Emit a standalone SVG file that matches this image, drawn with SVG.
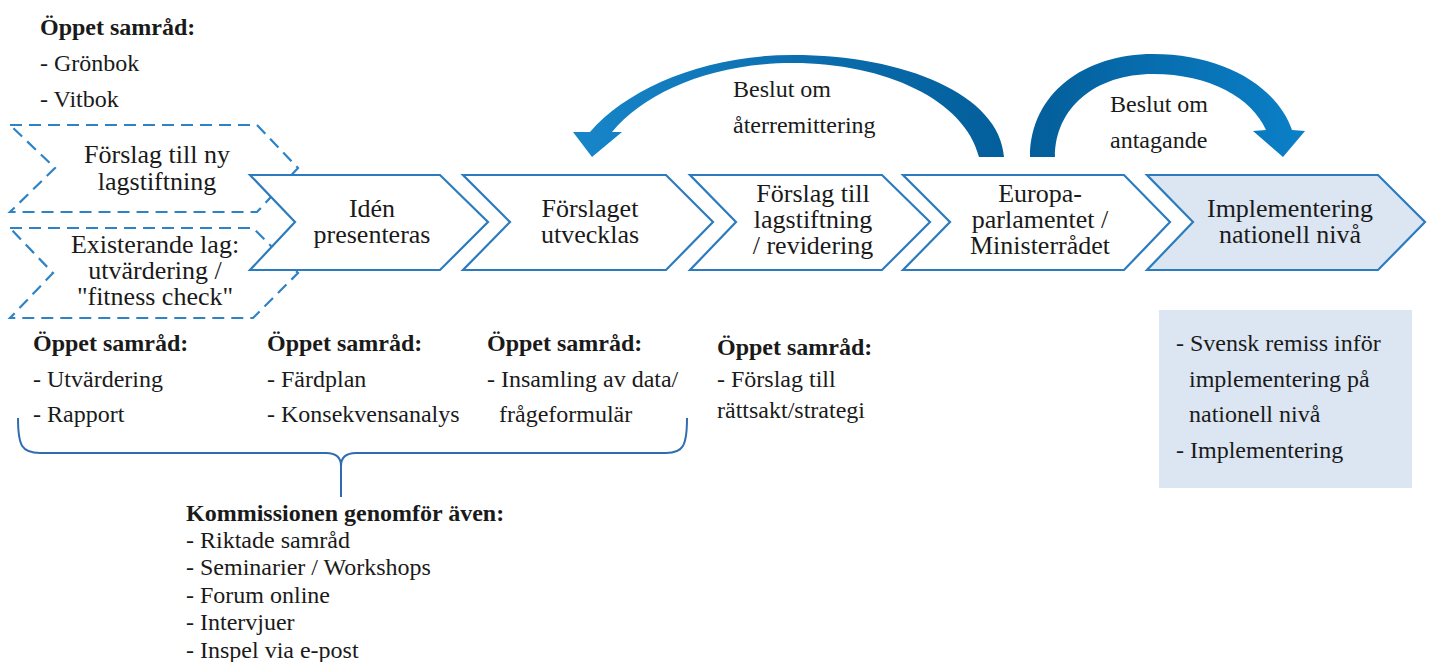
<svg xmlns="http://www.w3.org/2000/svg" width="1434" height="662" viewBox="0 0 1434 662">
<defs>
<style>
.t{font-family:"Liberation Serif","Times New Roman",serif;fill:#1a1a1a}
.c{font-size:26px;text-anchor:middle}
.b{font-size:24px}
.k{font-size:24px}
.h{font-weight:bold}
.chev{fill:#ffffff;stroke:#2B7BBE;stroke-width:2.2;stroke-linejoin:miter}
.chev5{fill:#DCE6F2;stroke:#2B7BBE;stroke-width:2.2}
.dash{fill:none;stroke:#2E82C6;stroke-width:2.2;stroke-dasharray:12 7}
.brace{fill:none;stroke:#2F6DB0;stroke-width:2}
</style>
<linearGradient id="g1" gradientUnits="userSpaceOnUse" x1="573" y1="0" x2="1005" y2="0">
<stop offset="0" stop-color="#1786C9"/>
<stop offset="0.6" stop-color="#0A6BAC"/>
<stop offset="1" stop-color="#035F9B"/>
</linearGradient>
<linearGradient id="g2" gradientUnits="userSpaceOnUse" x1="1030" y1="0" x2="1305" y2="0">
<stop offset="0" stop-color="#045E9A"/>
<stop offset="1" stop-color="#0B80C8"/>
</linearGradient>
</defs>
<rect width="1434" height="662" fill="#ffffff"/>

<g id="top-samrad" class="t b">
<text x="40" y="35" class="h">Öppet samråd:</text>
<text x="40" y="71">- Grönbok</text>
<text x="40" y="107">- Vitbok</text>
</g>

<g id="node-forslag-ny">
<path class="dash" d="M10,125 L257,125 L298,168 L257,212 L10,212 L55,168 Z"/>
<text class="t c" x="157" y="163">Förslag till ny</text>
<text class="t c" x="157" y="190">lagstiftning</text>
</g>
<g id="node-existerande">
<path class="dash" d="M10,228 L253,228 L298,273 L253,318 L10,318 L53,273 Z"/>
<text class="t c" x="155" y="253">Existerande lag:</text>
<text class="t c" x="155" y="279">utvärdering /</text>
<text class="t c" x="155" y="305">"fitness check"</text>
</g>

<g id="node-iden">
<path class="chev" d="M250,175 L440,175 L488,222 L440,270 L250,270 L295,222 Z"/>
<text class="t c" x="372" y="217">Idén</text>
<text class="t c" x="372" y="243">presenteras</text>
</g>
<g id="node-utvecklas">
<path class="chev" d="M463,175 L666,175 L713,222 L666,270 L463,270 L510,222 Z"/>
<text class="t c" x="590" y="217">Förslaget</text>
<text class="t c" x="590" y="243">utvecklas</text>
</g>
<g id="node-lagstiftning">
<path class="chev" d="M690,175 L882,175 L930,222 L882,270 L690,270 L736,222 Z"/>
<text class="t c" x="813" y="202">Förslag till</text>
<text class="t c" x="813" y="228">lagstiftning</text>
<text class="t c" x="813" y="254">/ revidering</text>
</g>
<g id="node-parlamentet">
<path class="chev" d="M903,175 L1124,175 L1170,222 L1124,270 L903,270 L950,222 Z"/>
<text class="t c" x="1040" y="202">Europa-</text>
<text class="t c" x="1040" y="228">parlamentet /</text>
<text class="t c" x="1040" y="254">Ministerrådet</text>
</g>
<g id="node-implementering">
<path class="chev5" d="M1147,175 L1378,175 L1425,222 L1378,270 L1147,270 L1193,222 Z"/>
<text class="t c" x="1290" y="217">Implementering</text>
<text class="t c" x="1290" y="243">nationell nivå</text>
</g>

<g id="connectors">
<path d="M1004,157 C1000,95 905,55 793,55 C705,55 628,88 590,132 L573,132 L592,157 L622,132 L612,132 C645,92 712,63 793,63 C885,63 965,100 979,157 Z" fill="url(#g1)"/>
<path d="M1030,157 C1030,93 1085,54 1153,54 C1225,54 1278,88 1292,130 L1305,131 L1283,157 L1253,131 L1266,130 C1252,98 1210,74 1153,74 C1095,74 1055,108 1055,157 Z" fill="url(#g2)"/>
<text class="t k" x="733" y="97">Beslut om</text>
<text class="t k" x="733" y="133">återremittering</text>
<text class="t k" x="1110" y="112">Beslut om</text>
<text class="t k" x="1110" y="148">antagande</text>
<path class="brace" d="M18,418 C18,446 22,453 40,453 L326,453 C336,453 341,457 341,466 C341,457 346,453 356,453 L666,453 C683,453 687,446 687,418 M341,466 L341,497"/>
</g>

<g id="samrad-1" class="t b">
<text x="33" y="351" class="h">Öppet samråd:</text>
<text x="33" y="387">- Utvärdering</text>
<text x="33" y="422">- Rapport</text>
</g>
<g id="samrad-2" class="t b">
<text x="267" y="351" class="h">Öppet samråd:</text>
<text x="267" y="387">- Färdplan</text>
<text x="267" y="422">- Konsekvensanalys</text>
</g>
<g id="samrad-3" class="t b">
<text x="487" y="351" class="h">Öppet samråd:</text>
<text x="487" y="387">- Insamling av data/</text>
<text x="499" y="422">frågeformulär</text>
</g>
<g id="samrad-4" class="t b">
<text x="717" y="355" class="h">Öppet samråd:</text>
<text x="717" y="387">- Förslag till</text>
<text x="717" y="418">rättsakt/strategi</text>
</g>

<g id="kommissionen" class="t k">
<text x="186" y="521" class="h">Kommissionen genomför även:</text>
<text x="186" y="548">- Riktade samråd</text>
<text x="186" y="575">- Seminarier / Workshops</text>
<text x="186" y="603">- Forum online</text>
<text x="186" y="630">- Intervjuer</text>
<text x="186" y="658">- Inspel via e-post</text>
</g>

<g id="nationell-box">
<rect x="1159" y="310" width="253" height="178" fill="#DCE6F2"/>
<g class="t b">
<text x="1176" y="351">- Svensk remiss inför</text>
<text x="1189" y="387">implementering på</text>
<text x="1189" y="422">nationell nivå</text>
<text x="1176" y="458">- Implementering</text>
</g>
</g>
</svg>
